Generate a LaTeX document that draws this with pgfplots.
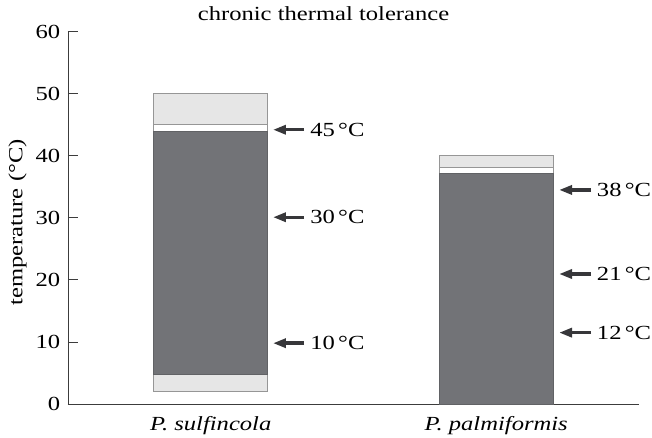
\documentclass[border=0pt]{standalone}
\usepackage{fontspec}
\setmainfont{Liberation Serif}[FakeStretch=1.23]
\usepackage{pgfplots}
\pgfplotsset{compat=1.18}
\usetikzlibrary{arrows.meta}
\definecolor{darkg}{RGB}{114,115,119}
\definecolor{lightg}{RGB}{230,230,230}
\definecolor{edgeg}{RGB}{150,150,150}
\definecolor{arrowc}{RGB}{55,55,58}
\definecolor{axc}{RGB}{60,60,60}
\begin{document}
\fontsize{20}{24}\selectfont
\begin{tikzpicture}
\useasboundingbox (-68pt,-34pt) rectangle (584pt,404pt);
\begin{axis}[
  scale only axis,
  width=571pt, height=372.3pt,
  xmin=0.5, xmax=2.5,
  ymin=0, ymax=60,
  axis x line=bottom, axis y line=left,
  axis line style={-, axc, line width=0.8pt},
  ytick={0,10,20,30,40,50,60},
  tick align=inside,
  major tick length=10pt,
  ytick style={axc, line width=0.8pt},
  xtick={1,2},
  xticklabels={\textit{P. sulfincola},\textit{P. palmiformis}},
  xtick style={draw=none},
  xticklabel style={yshift=-6pt},
  yticklabel style={xshift=-1pt},
  tick label style={font=\fontsize{20}{24}\selectfont},
  /pgf/number format/assume math mode=true,
  clip=false,
]
% P. sulfincola
\addplot[fill=lightg, draw=edgeg, line width=0.8pt] coordinates {(0.8,2) (1.2,2) (1.2,50) (0.8,50)} -- cycle;
\addplot[fill=white, draw=edgeg, line width=0.8pt] coordinates {(0.8,44) (1.2,44) (1.2,45) (0.8,45)} -- cycle;
\addplot[fill=darkg, draw=darkg!85!black, line width=0.8pt] coordinates {(0.8,4.8) (1.2,4.8) (1.2,44) (0.8,44)} -- cycle;
% P. palmiformis
\addplot[fill=lightg, draw=edgeg, line width=0.8pt] coordinates {(1.8,0) (2.2,0) (2.2,40) (1.8,40)} -- cycle;
\addplot[fill=white, draw=edgeg, line width=0.8pt] coordinates {(1.8,37.1) (2.2,37.1) (2.2,38.1) (1.8,38.1)} -- cycle;
\addplot[fill=darkg, draw=darkg!85!black, line width=0.8pt] coordinates {(1.8,0) (2.2,0) (2.2,37.1) (1.8,37.1)} -- cycle;
% arrows
\addplot[arrowc, line width=3.4pt, -{Triangle[length=13pt,width=9pt]}] coordinates {(1.327,44.2) (1.218,44.2)};
\addplot[arrowc, line width=3.4pt, -{Triangle[length=13pt,width=9pt]}] coordinates {(1.327,30.1) (1.218,30.1)};
\addplot[arrowc, line width=3.4pt, -{Triangle[length=13pt,width=9pt]}] coordinates {(1.327,9.8) (1.218,9.8)};
\addplot[arrowc, line width=3.4pt, -{Triangle[length=13pt,width=9pt]}] coordinates {(2.332,34.5) (2.220,34.5)};
\addplot[arrowc, line width=3.4pt, -{Triangle[length=13pt,width=9pt]}] coordinates {(2.332,20.95) (2.220,20.95)};
\addplot[arrowc, line width=3.4pt, -{Triangle[length=13pt,width=9pt]}] coordinates {(2.332,11.5) (2.220,11.5)};
\node[anchor=west, inner sep=0pt] at (axis cs:1.348,44.2) {45\,°C};
\node[anchor=west, inner sep=0pt] at (axis cs:1.348,30.1) {30\,°C};
\node[anchor=west, inner sep=0pt] at (axis cs:1.348,9.8) {10\,°C};
\node[anchor=west, inner sep=0pt] at (axis cs:2.352,34.5) {38\,°C};
\node[anchor=west, inner sep=0pt] at (axis cs:2.352,20.95) {21\,°C};
\node[anchor=west, inner sep=0pt] at (axis cs:2.352,11.5) {12\,°C};
\node[anchor=base, inner sep=0pt] at (axis cs:1.395,61.77) {chronic thermal tolerance};
\node[rotate=90, inner sep=0pt] at (axis cs:0.323,29.25) {temperature (°C)};
\end{axis}
\end{tikzpicture}
\end{document}
